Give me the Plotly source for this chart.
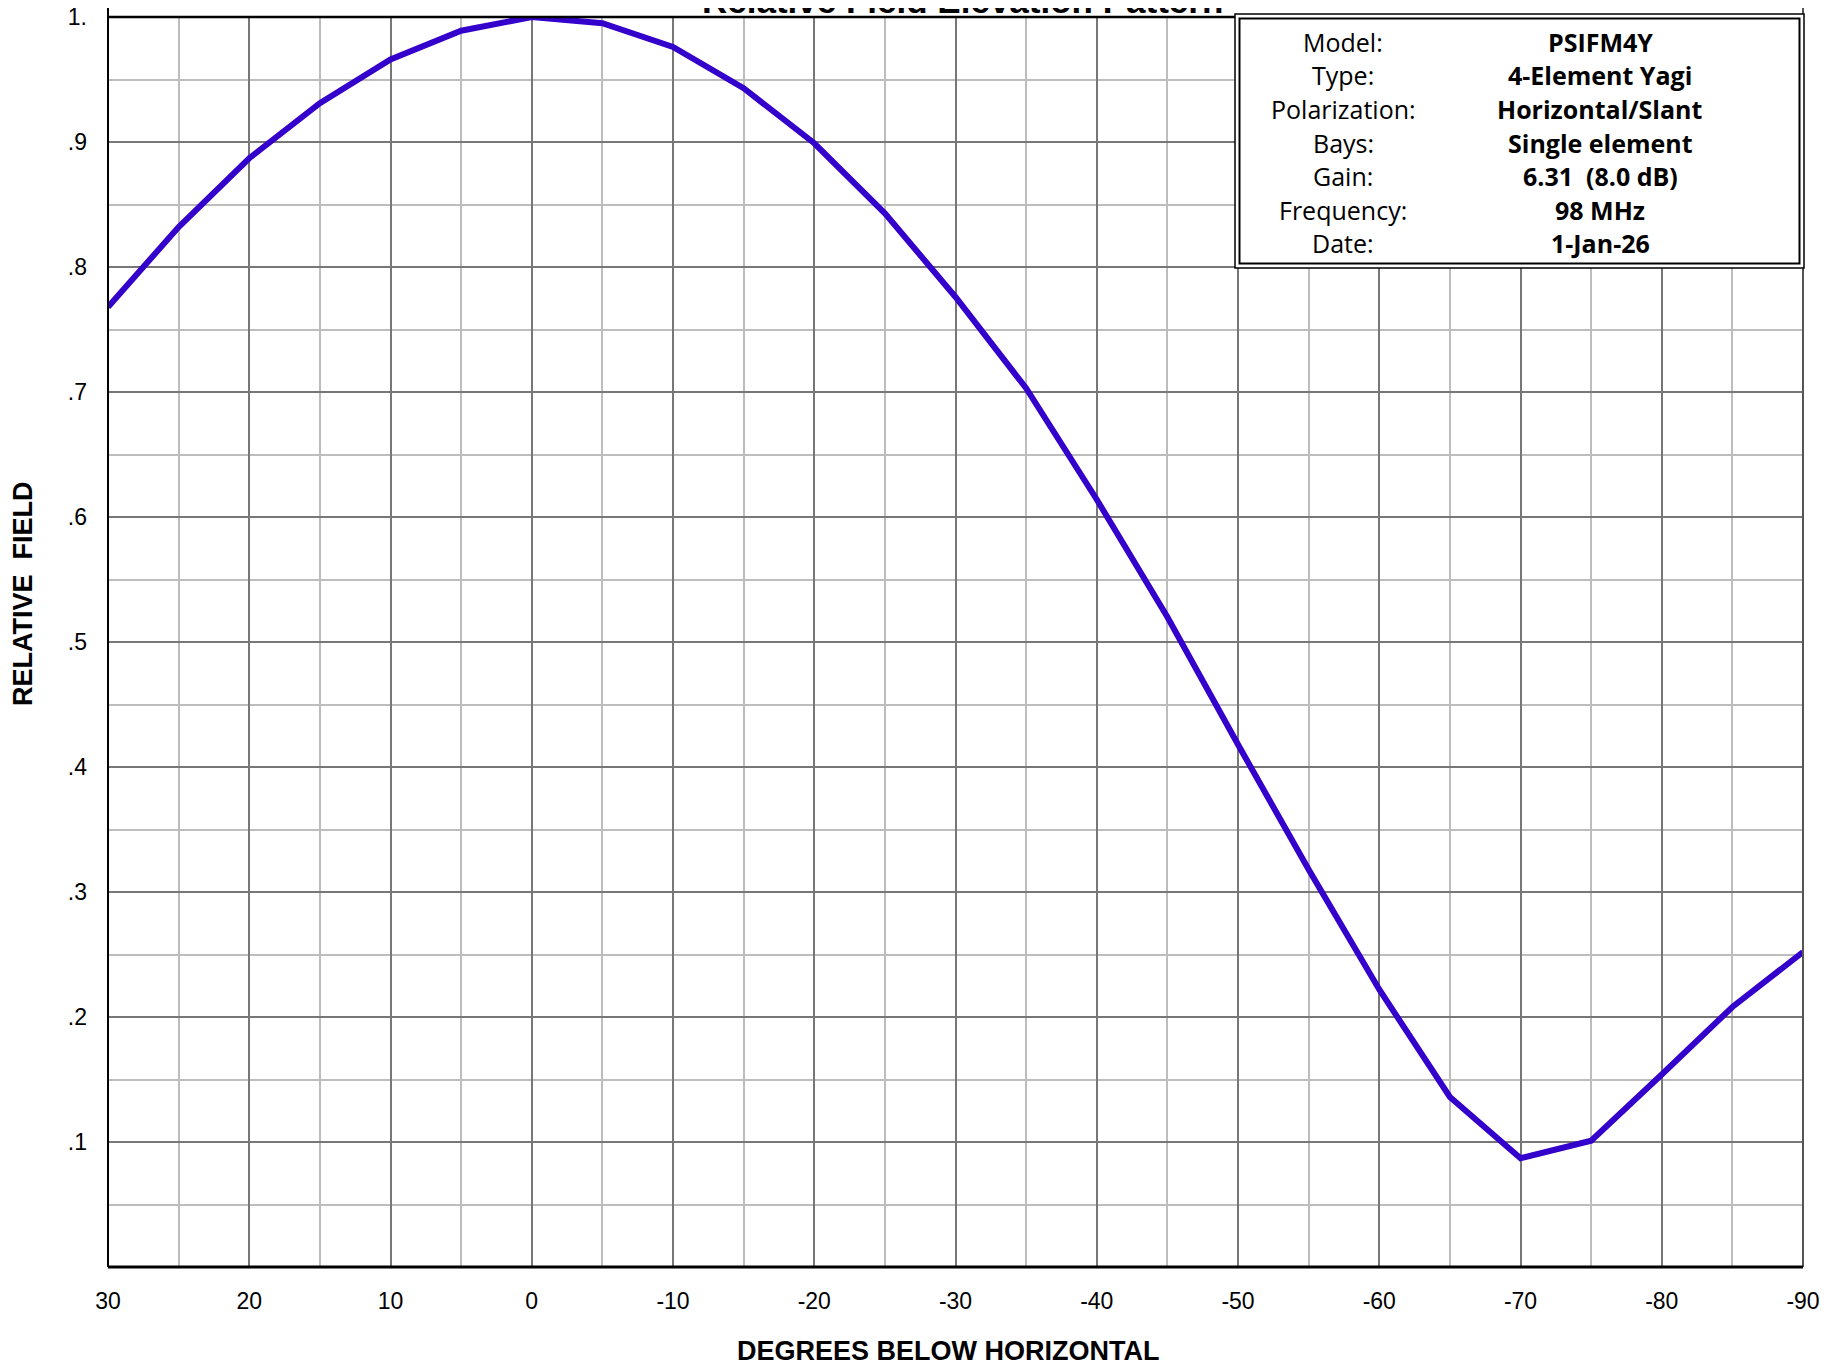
import plotly.graph_objects as go

# ---- data ----
degrees = [30, 25, 20, 15, 10, 5, 0, -5, -10, -15, -20, -25, -30, -35, -40,
           -45, -50, -55, -60, -65, -70, -75, -80, -85, -90]
rel_field = [0.768, 0.832, 0.887, 0.931, 0.966, 0.989, 1.000, 0.995, 0.976, 0.943,
             0.899, 0.843, 0.776, 0.703, 0.614, 0.520, 0.418, 0.318, 0.222, 0.136,
             0.087, 0.101, 0.154, 0.208, 0.252]

x_tick_vals = [30, 20, 10, 0, -10, -20, -30, -40, -50, -60, -70, -80, -90]
x_tick_text = ["30", "20", "10", "0", "-10", "-20", "-30", "-40", "-50", "-60", "-70", "-80", "-90"]
x_minor_vals = [25, 15, 5, -5, -15, -25, -35, -45, -55, -65, -75, -85]
y_tick_vals = [0.1, 0.2, 0.3, 0.4, 0.5, 0.6, 0.7, 0.8, 0.9, 1.0]
y_tick_text = [".1", ".2", ".3", ".4", ".5", ".6", ".7", ".8", ".9", "1."]
y_minor_vals = [0.05, 0.15, 0.25, 0.35, 0.45, 0.55, 0.65, 0.75, 0.85, 0.95]

title_text = "Relative Field Elevation Pattern"
x_title = "DEGREES BELOW HORIZONTAL"
y_title = "RELATIVE  FIELD"

box_labels = ["Model:", "Type:", "Polarization:", "Bays:", "Gain:", "Frequency:", "Date:"]
box_values = ["PSIFM4Y", "4-Element Yagi", "Horizontal/Slant", "Single element",
              "6.31  (8.0 dB)", "98 MHz", "1-Jan-26"]

# ---- layout geometry (page pixels) ----
W, H = 1833, 1366
OFF = 8                      # default body margin of the html page
L, R, T, B = 108, 1803, 17, 1267
PW, PH = R - L, B - T


def px(xp):
    return (xp - L) / PW


def py(yp):
    return (B - yp) / PH


MAJOR = "#777777"
MINOR = "#bdbdbd"
AX_FONT = "Liberation Sans, Arial, sans-serif"
BOX_FONT = "Open Sans, sans-serif"

fig = go.Figure()
fig.add_trace(go.Scatter(
    x=degrees, y=rel_field, mode="lines",
    line=dict(color="#3300CC", width=6),
    hoverinfo="skip", showlegend=False,
))

fig.update_layout(
    width=W, height=H,
    margin=dict(l=L - OFF, r=W - (R - OFF), t=T - OFF, b=H - (B - OFF), autoexpand=False),
    paper_bgcolor="white", plot_bgcolor="white",
    font=dict(family=AX_FONT, color="black"),
    showlegend=False,
)

fig.update_xaxes(
    range=[30, -90], automargin=False, ticklabeloverflow="allow",
    tickmode="array", tickvals=x_tick_vals, ticktext=x_tick_text,
    tickfont=dict(size=23, family=AX_FONT),
    ticks="", ticklabelstandoff=18,
    showgrid=True, gridcolor=MAJOR, gridwidth=1.5,
    minor=dict(tickvals=x_minor_vals, showgrid=True, gridcolor=MINOR, gridwidth=1.5),
    showline=False, zeroline=False,
)
fig.update_yaxes(
    range=[0, 1], automargin=False, ticklabeloverflow="allow",
    tickmode="array", tickvals=y_tick_vals, ticktext=y_tick_text,
    tickfont=dict(size=23, family=AX_FONT),
    ticks="", ticklabelstandoff=20,
    showgrid=True, gridcolor=MAJOR, gridwidth=1.5,
    minor=dict(tickvals=y_minor_vals, showgrid=True, gridcolor=MINOR, gridwidth=1.5),
    showline=False, zeroline=False,
)

shapes = []
top_page = py(0)
# frame lines
shapes.append(dict(type="line", xref="paper", yref="paper", x0=0, x1=0, y0=0, y1=top_page,
                   line=dict(color="black", width=2)))
shapes.append(dict(type="line", xref="paper", yref="paper", x0=1, x1=1, y0=0, y1=top_page,
                   line=dict(color="#555555", width=2)))
shapes.append(dict(type="line", xref="paper", yref="paper", x0=0, x1=1, y0=1, y1=1,
                   line=dict(color="black", width=2.5)))
shapes.append(dict(type="line", xref="paper", yref="paper", x0=0, x1=1, y0=0, y1=0,
                   line=dict(color="black", width=3)))
# info box (double border)
shapes.append(dict(type="rect", xref="paper", yref="paper",
                   x0=px(1235), x1=px(1804), y0=py(268), y1=py(14),
                   fillcolor="white", line=dict(color="black", width=1.5), layer="above"))
shapes.append(dict(type="rect", xref="paper", yref="paper",
                   x0=px(1239.5), x1=px(1799.5), y0=py(263.5), y1=py(18.5),
                   fillcolor="rgba(0,0,0,0)", line=dict(color="black", width=2), layer="above"))
fig.update_layout(shapes=shapes)

annotations = []
annotations.append(dict(text="<b>" + title_text + "</b>", xref="paper", yref="paper",
                        x=px(962), y=py(0.5), xanchor="center", yanchor="middle",
                        showarrow=False,
                        font=dict(size=35, family=AX_FONT, color="black")))
annotations.append(dict(text="<b>" + x_title + "</b>", xref="paper", yref="paper",
                        x=px(948), y=py(1351), xanchor="center", yanchor="middle",
                        showarrow=False,
                        font=dict(size=27, family=AX_FONT, color="black")))
annotations.append(dict(text="<b>" + y_title + "</b>", xref="paper", yref="paper",
                        x=px(23), y=py(594), xanchor="center", yanchor="middle",
                        textangle=-90, showarrow=False,
                        font=dict(size=27, family=AX_FONT, color="black")))

for i, (lab, val) in enumerate(zip(box_labels, box_values)):
    row_y = 42 + 33.5 * i
    annotations.append(dict(text=lab, xref="paper", yref="paper",
                            x=px(1343), y=py(row_y), xanchor="center", yanchor="middle",
                            showarrow=False,
                            font=dict(size=25, family=BOX_FONT, color="black")))
    annotations.append(dict(text="<b>" + val + "</b>", xref="paper", yref="paper",
                            x=px(1600), y=py(row_y), xanchor="center", yanchor="middle",
                            showarrow=False,
                            font=dict(size=25, family=BOX_FONT, color="black")))
fig.update_layout(annotations=annotations)

fig.write_html("out.html")
